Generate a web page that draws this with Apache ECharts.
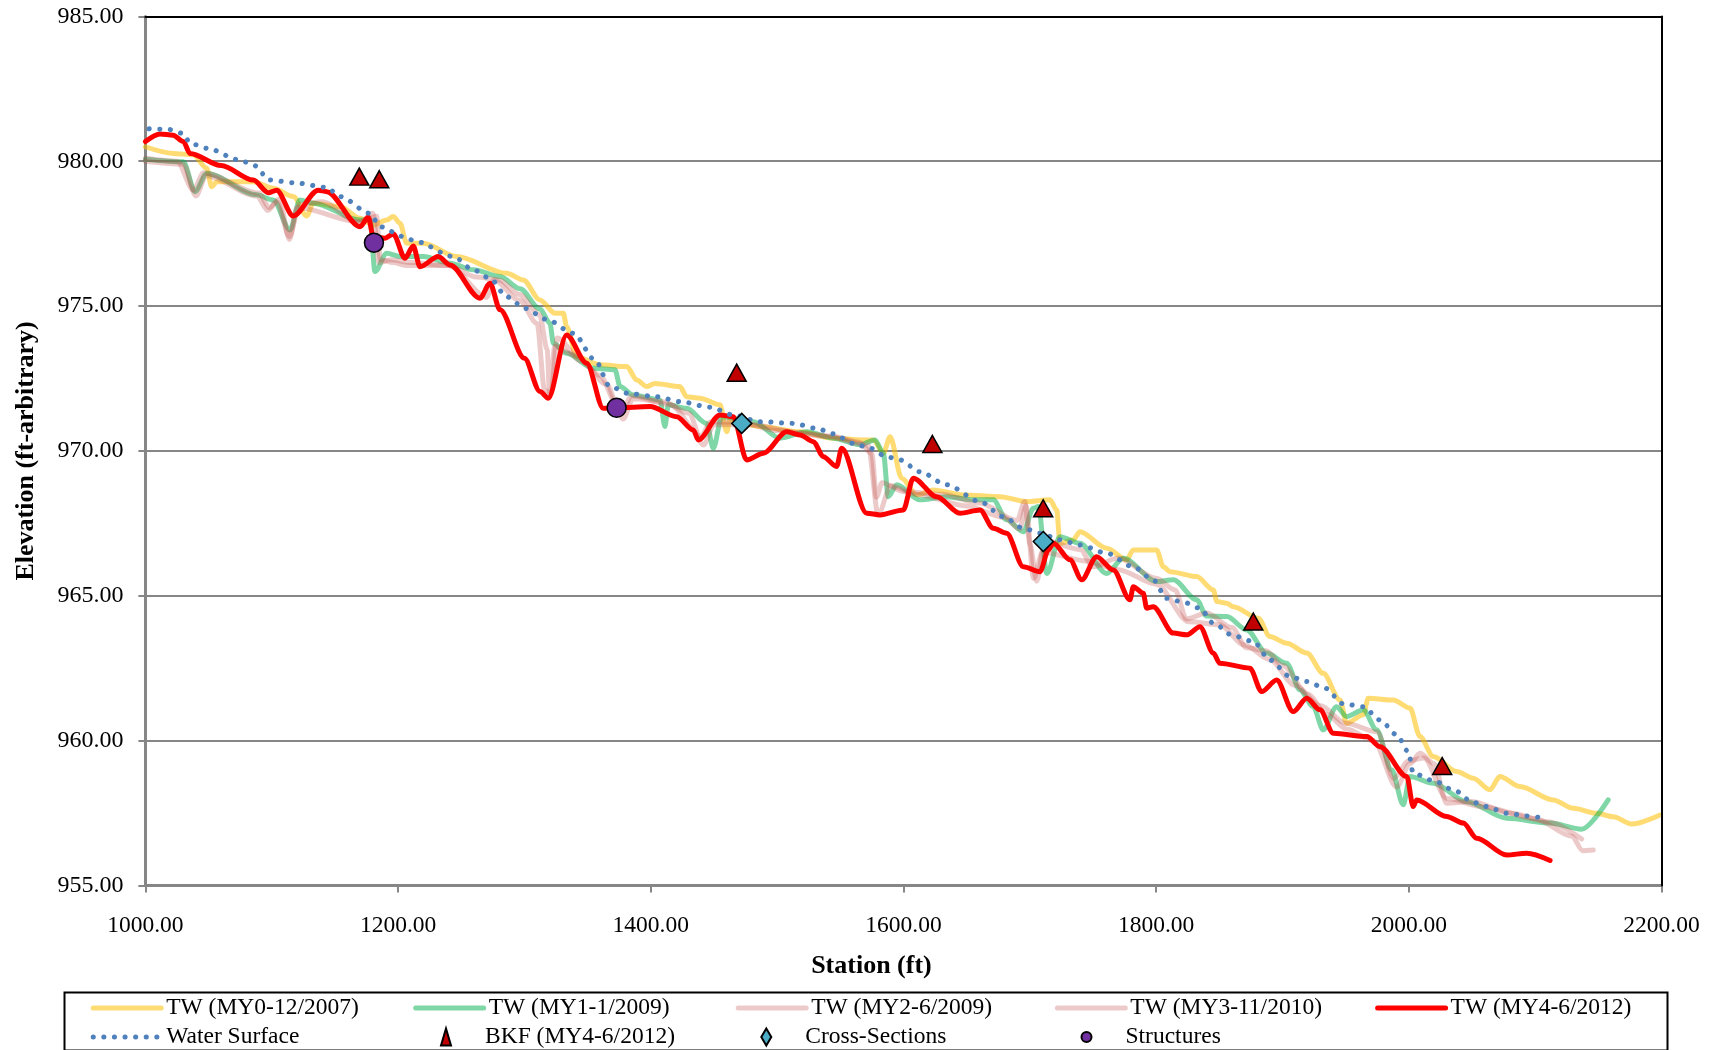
<!DOCTYPE html>
<html>
<head>
<meta charset="utf-8">
<script src="https://cdn.jsdelivr.net/npm/echarts@6/dist/echarts.min.js"></script>
<style>html,body{margin:0;padding:0;background:#fff;}#c{width:1714px;height:1050px;}</style>
</head>
<body>
<div id="c"></div>
<script>
// ---------- DATA (station ft, elevation ft) ----------
const xTicks = [1000, 1200, 1400, 1600, 1800, 2000, 2200];
const yTicks = [955, 960, 965, 970, 975, 980, 985];

const twMY0 = [[1000,980.50],[1022,980.27],[1037.9,980.22],[1048.5,979.76],[1052.5,979.12],[1056.4,979.29],[1085.4,979.29],[1101.2,979.07],[1117,978.78],[1127.7,978.11],[1132.9,978.55],[1154,978.43],[1169.9,978.03],[1180.4,977.80],[1191,977.97],[1196.2,978.09],[1201.5,977.86],[1206.8,977.17],[1219.9,977.17],[1246.4,976.71],[1286,976.13],[1299.1,975.90],[1312.3,975.21],[1324.2,974.75],[1330.8,974.75],[1333.4,974.29],[1341.4,973.25],[1359.9,972.97],[1381,972.91],[1388.9,972.45],[1396.8,972.22],[1403.3,972.33],[1423.1,972.22],[1428.4,971.87],[1439,971.82],[1454.8,971.59],[1460.1,970.66],[1462.7,971.07],[1486.4,970.84],[1518.1,970.66],[1544.5,970.44],[1568.3,970.38],[1576.2,970.38],[1584.1,969.92],[1589.4,970.49],[1598.6,969.06],[1610.5,968.48],[1623.6,968.65],[1647.4,968.48],[1676.4,968.42],[1697.5,968.25],[1716,968.31],[1721.3,967.96],[1723.9,966.81],[1734.4,966.93],[1739.7,967.21],[1760.8,966.64],[1776.7,966.24],[1781.9,966.58],[1800.4,966.58],[1805.7,966.0],[1811,965.83],[1832.1,965.66],[1845.3,965.20],[1848,964.80],[1855.9,964.74],[1861.1,964.62],[1880.9,964.22],[1890.1,963.59],[1903.3,963.36],[1919.2,963.02],[1932.3,962.32],[1945.5,961.40],[1950.8,960.60],[1964,960.89],[1967.9,961.46],[1987.7,961.40],[2000.9,961.12],[2008.8,960.14],[2019.4,959.45],[2037.9,958.93],[2051,958.70],[2064.2,958.30],[2072.1,958.76],[2087.9,958.41],[2114.3,957.95],[2130.2,957.66],[2148.7,957.49],[2161.8,957.37],[2176.4,957.12],[2198.8,957.43]];

const twMY1 = [[1000,980.07],[1030,979.98],[1039.3,978.95],[1048.5,979.58],[1088,978.84],[1101.2,978.66],[1114.4,977.63],[1122.3,978.66],[1132.9,978.55],[1169.9,977.97],[1177.8,977.97],[1181.7,976.19],[1191,976.82],[1201.5,976.71],[1220,976.71],[1241.1,976.48],[1259.5,976.25],[1280.7,976.02],[1296.5,975.6],[1312.3,974.9],[1320.2,974.41],[1322.9,973.72],[1333.4,973.37],[1354.5,972.85],[1371.7,972.80],[1375.7,972.22],[1386.2,971.93],[1407.3,971.76],[1411.2,970.84],[1413.9,971.59],[1428.4,971.47],[1444.2,970.95],[1449.5,970.09],[1456.2,971.18],[1481.1,971.01],[1502.3,970.44],[1523.4,970.66],[1544.5,970.44],[1565.6,970.21],[1577.5,970.38],[1584.1,969.92],[1588,968.42],[1594.7,968.83],[1613,968.31],[1634.2,968.42],[1655.3,968.31],[1671.1,968.31],[1681.7,967.62],[1694.9,967.21],[1702.8,968.02],[1706.8,968.08],[1713.5,965.77],[1723.9,967.04],[1739.7,966.81],[1760.8,965.77],[1774,966.29],[1800.4,965.49],[1813.6,965.55],[1832.1,964.86],[1840,964.3],[1855.9,964.28],[1871.7,963.82],[1887.4,963.02],[1903.3,962.67],[1913.8,961.75],[1924.3,961.17],[1932.3,960.37],[1942.8,961.17],[1950.8,960.83],[1964,961.06],[1974.5,960.37],[1986.4,958.99],[1995.6,957.78],[2000.9,958.76],[2019.4,958.53],[2045.8,957.89],[2077.5,957.32],[2111.8,957.15],[2136.8,956.94],[2157.8,957.95]];

const twMY2 = [[1000,980.0],[1030,979.9],[1040,978.8],[1048,979.5],[1088,978.8],[1097,978.3],[1104,978.6],[1114,977.4],[1122,978.5],[1140,978.6],[1168,977.9],[1183,978.1],[1186,976.6],[1196,976.5],[1207,976.4],[1240,976.4],[1262,976.0],[1280,975.9],[1296,975.4],[1312,974.7],[1318,973.5],[1320,971.9],[1324,973.6],[1340,973.3],[1360,972.6],[1372,971.7],[1378,971.1],[1386,971.8],[1410,971.7],[1430,971.3],[1441.6,970.2],[1450,970.9],[1480,970.9],[1520,970.6],[1545,970.5],[1565,970.3],[1575,969.9],[1578.6,968.4],[1583,968.9],[1600,968.6],[1630,968.5],[1660,968.2],[1690,967.6],[1696,968.25],[1700,966.8],[1705.5,965.5],[1712,966.9],[1740,966.6],[1750,966.0],[1770,966.3],[1800,965.6],[1815,965.2],[1824,964.2],[1840,964.4],[1860,963.9],[1871.7,963.2],[1887,963.1],[1900,962.6],[1920,961.6],[1935,960.9],[1950.8,960.4],[1971.9,960.0],[1990.4,958.4],[2000.9,959.2],[2008.8,959.56],[2020,959.2],[2029.9,957.84],[2050,957.9],[2080,957.5],[2110,957.2],[2136.8,956.6]];

const twMY3 = [[1000,980.1],[1025,980.0],[1038,979.0],[1046,979.6],[1090,978.9],[1098,978.4],[1106,978.7],[1114,977.3],[1120,978.4],[1170,977.9],[1180,978.2],[1185,976.5],[1194,976.6],[1210,976.5],[1240,976.4],[1270,975.3],[1276,975.9],[1296,975.2],[1310,974.4],[1316,972.1],[1321,972.0],[1326,973.9],[1345,973.1],[1365,972.3],[1376,971.3],[1385,971.9],[1415,971.6],[1440,970.5],[1447,971.0],[1470,971.0],[1500,970.7],[1540,970.5],[1572,970.2],[1580,967.8],[1590,968.8],[1610,968.5],[1650,968.1],[1680,967.7],[1692,967.3],[1697,968.1],[1703,965.6],[1710,966.5],[1745,966.2],[1770,965.9],[1800,965.4],[1826,964.1],[1850,964.0],[1870,963.3],[1890,962.8],[1910,961.9],[1930,961.2],[1950,960.6],[1975,960.3],[1988,958.7],[2000,959.3],[2012,959.4],[2030,958.0],[2060,957.7],[2100,957.3],[2129,956.7],[2137.6,956.2],[2146,956.22]];

const twMY4 = [[1000,980.68],[1011.6,980.94],[1022,980.9],[1030,980.68],[1035.3,980.27],[1060,979.85],[1085.4,979.35],[1097.3,978.91],[1103.9,979.0],[1117,978.11],[1136.8,979.0],[1143.5,978.95],[1169.9,977.74],[1176.4,978.07],[1180.4,977.40],[1189.6,977.34],[1196.2,977.49],[1205.5,976.65],[1212,977.07],[1217.3,976.36],[1231.8,976.71],[1241.1,976.42],[1264.8,975.27],[1272.7,975.79],[1280.7,974.87],[1300,973.2],[1312.3,972.05],[1318.9,971.82],[1333.4,974.0],[1349.3,973.03],[1362.4,971.47],[1373,971.49],[1399.4,971.53],[1420.5,971.18],[1433.7,970.72],[1437.6,970.38],[1454.8,971.24],[1465.3,971.18],[1475.9,969.69],[1489.1,969.92],[1507.6,970.66],[1518.1,970.55],[1528.7,970.32],[1536.6,969.80],[1547.1,969.46],[1551.1,970.09],[1570.9,967.85],[1581.4,967.79],[1599.9,967.96],[1607.8,969.06],[1626.3,968.42],[1644.7,967.85],[1660.6,967.96],[1671.1,967.33],[1681.7,967.16],[1694.9,966.00],[1708.1,965.83],[1714.7,966.58],[1718.6,966.81],[1731.8,966.24],[1741.1,965.55],[1752.9,966.35],[1766.1,965.89],[1779.3,964.86],[1781.9,965.31],[1789.8,965.09],[1792.5,964.57],[1797.7,964.62],[1813.6,963.71],[1824.2,963.65],[1834.7,963.93],[1845.3,963.02],[1850.4,962.67],[1874.2,962.50],[1883.5,961.69],[1895.4,962.09],[1908.5,961.0],[1919.2,961.46],[1929.7,961.06],[1940.3,960.25],[1966.7,960.14],[1977.2,959.79],[1998.4,958.76],[2003.5,957.72],[2006.2,957.95],[2029.9,957.38],[2043.1,957.15],[2053.7,956.63],[2077.5,956.05],[2093.3,956.11],[2111.8,955.86]];

const waterSurface = [[1003,981.12],[1018,981.1],[1030,980.96],[1035.3,980.62],[1048.5,980.45],[1074.9,980.04],[1085.4,979.87],[1098.6,979.35],[1117,979.26],[1143.5,979.10],[1154,978.78],[1177.8,978.20],[1185.7,977.74],[1204.1,977.40],[1214.7,977.22],[1243.7,976.71],[1259.5,976.25],[1272.7,975.96],[1286,975.32],[1300.5,974.92],[1317.6,974.54],[1338.7,974.06],[1355.9,973.14],[1367.7,972.22],[1383.6,971.97],[1404.7,971.87],[1423.1,971.70],[1446.9,971.51],[1465.3,971.24],[1486.4,971.01],[1512.8,970.95],[1531.3,970.78],[1544.5,970.59],[1560.3,970.26],[1573.5,970.09],[1586.7,969.80],[1597.2,969.69],[1613,969.28],[1634.2,968.83],[1660.6,968.25],[1679.1,967.73],[1694.9,967.33],[1708.1,967.16],[1723.9,966.93],[1739.7,966.75],[1760.8,966.47],[1781.9,966.00],[1797.7,965.55],[1808.3,964.91],[1821.5,964.78],[1834.7,964.57],[1845.3,964.05],[1861.1,963.62],[1876.9,963.42],[1890.1,962.78],[1906,962.21],[1919.2,962.04],[1933.6,961.81],[1948.1,961.27],[1964,961.17],[1977.2,960.71],[1990.4,960.20],[1999.6,959.62],[2003.5,958.87],[2019.4,958.62],[2035.2,958.30],[2051,957.87],[2061.6,957.72],[2077.5,957.49],[2093.3,957.40],[2106.4,957.32]];

const bkfMY4 = [[1169.3,979.47],[1185.1,979.38],[1468,972.70],[1622.9,970.24],[1710.6,968.02],[1876.9,964.11],[2026.4,959.12]];
const crossSections = [[1472,970.95],[1710.7,966.87]];
const structures = [[1180.9,977.19],[1373,971.49]];

const seriesNames = ['TW (MY0-12/2007)','TW (MY1-1/2009)','TW (MY2-6/2009)','TW (MY3-11/2010)','TW (MY4-6/2012)','Water Surface','BKF (MY4-6/2012)','Cross-Sections','Structures'];

// ---------- CHART ----------
const FONT = 'Liberation Serif, Times New Roman, serif';
const chart = echarts.init(document.getElementById('c'), null, {renderer: 'canvas'});

function lineSeries(name, data, color, z, extra) {
  return Object.assign({
    name, type: 'line', data, z,
    showSymbol: false, symbol: 'none',
    smooth: 0.3, smoothMonotone: 'x',
    lineStyle: {color, width: 5, cap: 'round', join: 'round'},
    itemStyle: {color},
    emphasis: {disabled: true},
    animation: false
  }, extra || {});
}
function scatterSeries(name, data, symbol, size, color) {
  return {
    name, type: 'scatter', data, symbol, symbolSize: size, z: 10,
    itemStyle: {color, borderColor: '#000', borderWidth: 1.5, opacity: 1},
    emphasis: {disabled: true}, animation: false
  };
}

const legendText = {fontFamily: FONT, fontSize: 23.5, color: '#000'};
function lineLegend(name, left, top) {
  return {
    data: [name], left, top, padding: 0, orient: 'horizontal',
    itemWidth: 68, itemHeight: 14,
    itemStyle: {opacity: 0},
    lineStyle: {width: 5},
    textStyle: legendText, selectedMode: false
  };
}
function markerLegend(name, left, top) {
  return {
    data: [name], left, top, padding: 0,
    itemWidth: 10, itemHeight: 17,
    textStyle: Object.assign({padding: [0, 0, 0, 29]}, legendText), selectedMode: false
  };
}

const row1 = 996, row2 = 1025;
const option = {
  backgroundColor: '#fff',
  animation: false,
  grid: {left: 145.4, right: 52.5, top: 16.4, bottom: 164.6, show: false},
  xAxis: [{
    type: 'value', min: xTicks[0], max: xTicks[xTicks.length - 1], interval: 200,
    name: 'Station (ft)', nameLocation: 'middle', nameGap: 68,
    nameTextStyle: {fontFamily: FONT, fontSize: 26, fontWeight: 'bold', color: '#000', padding: [0, 64, 0, 0]},
    axisLine: {show: true, onZero: false, lineStyle: {color: '#868686', width: 3}},
    axisTick: {show: true, length: 7, lineStyle: {color: '#868686', width: 2}},
    axisLabel: {fontFamily: FONT, fontSize: 23.5, color: '#000', margin: 28, formatter: v => v.toFixed(2)},
    splitLine: {show: false}
  }, {
    type: 'value', position: 'top', min: xTicks[0], max: xTicks[xTicks.length - 1], z: 5,
    axisLine: {show: true, onZero: false, lineStyle: {color: '#000', width: 2}},
    axisTick: {show: false}, axisLabel: {show: false}, splitLine: {show: false}
  }],
  yAxis: [{
    type: 'value', min: yTicks[0], max: yTicks[yTicks.length - 1], interval: 5,
    name: 'Elevation (ft-arbitrary)', nameLocation: 'middle', nameGap: 106,
    nameTextStyle: {fontFamily: FONT, fontSize: 26, fontWeight: 'bold', color: '#000'},
    axisLine: {show: true, onZero: false, lineStyle: {color: '#868686', width: 3}},
    axisTick: {show: true, length: 7, lineStyle: {color: '#868686', width: 2}},
    axisLabel: {fontFamily: FONT, fontSize: 24, color: '#000', margin: 22, formatter: v => v.toFixed(2)},
    splitLine: {show: true, lineStyle: {color: '#868686', width: 2}}
  }, {
    type: 'value', position: 'right', min: yTicks[0], max: yTicks[yTicks.length - 1], z: 5,
    axisLine: {show: true, onZero: false, lineStyle: {color: '#000', width: 2}},
    axisTick: {show: false}, axisLabel: {show: false}, splitLine: {show: false}
  }],
  legend: [
    lineLegend(seriesNames[0], 90.7, row1),
    lineLegend(seriesNames[1], 413.2, row1),
    lineLegend(seriesNames[2], 735.7, row1),
    lineLegend(seriesNames[3], 1054.8, row1),
    lineLegend(seriesNames[4], 1375.1, row1),
    lineLegend(seriesNames[5], 90.7, row2),
    markerLegend(seriesNames[6], 440, row2),
    markerLegend(seriesNames[7], 760.3, row2),
    markerLegend(seriesNames[8], 1080.5, row2)
  ],
  graphic: [{
    type: 'rect', left: 62, top: 990, z: 100,
    shape: {width: 1603, height: 58},
    style: {fill: 'none', stroke: '#000', lineWidth: 2}
  }],
  series: [
    lineSeries(seriesNames[0], twMY0, 'rgba(255,192,0,0.55)', 2),
    lineSeries(seriesNames[1], twMY1, 'rgba(0,176,80,0.5)', 3),
    lineSeries(seriesNames[2], twMY2, 'rgba(192,80,77,0.3)', 4),
    lineSeries(seriesNames[3], twMY3, 'rgba(192,80,77,0.3)', 4),
    lineSeries(seriesNames[4], twMY4, '#FF0000', 6),
    lineSeries(seriesNames[5], waterSurface, '#4F81BD', 7,
      {lineStyle: {color: '#4F81BD', width: 5, type: [0.1, 10.5], cap: 'round'}}),
    scatterSeries(seriesNames[6], bkfMY4, 'triangle', [19, 17], '#C00000'),
    scatterSeries(seriesNames[7], crossSections, 'diamond', [20, 20], '#4BACC6'),
    scatterSeries(seriesNames[8], structures, 'circle', 19, '#7030A0')
  ]
};
chart.setOption(option);
</script>
</body>
</html>
